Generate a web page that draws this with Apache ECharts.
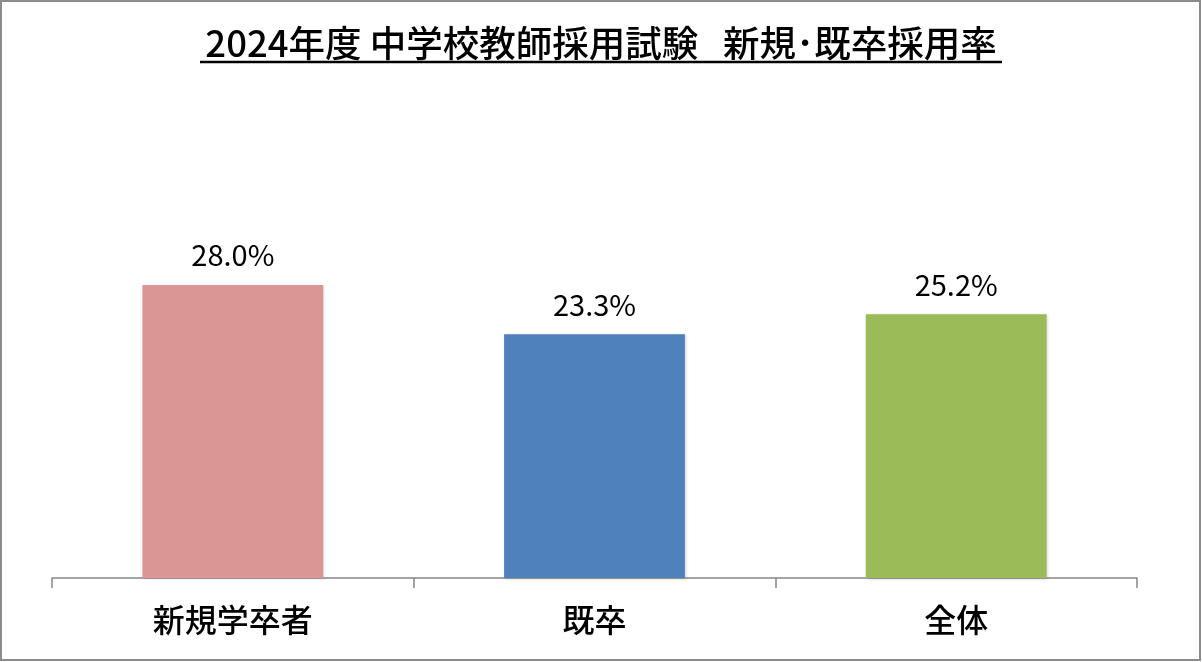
<!DOCTYPE html>
<html lang="ja">
<head>
<meta charset="utf-8">
<title>2024年度 中学校教師採用試験 新規・既卒採用率</title>
<script src="https://cdn.jsdelivr.net/npm/echarts@6/dist/echarts.min.js"></script>
<style>
  html, body { margin: 0; padding: 0; background: #fff; }
  #chartContainer { width: 1202px; height: 662px; }
</style>
</head>
<body>
<div id="chartContainer"></div>
<script>
const titleText = '2024年度 中学校教師採用試験   新規･既卒採用率';
const categories = ['新規学卒者', '既卒', '全体'];
const rates = [28.0, 23.3, 25.2];
const barColors = ['#d99694', '#4f81bd', '#9bbb59'];

const fontFamily = '"Noto Sans CJK JP", "Noto Sans", sans-serif';

const chartDom = document.getElementById('chartContainer');
const myChart = echarts.init(chartDom);

const option = {
  animation: false,
  backgroundColor: '#fff',
  title: {
    text: titleText,
    left: 'center',
    top: 20,
    textStyle: {
      fontFamily: fontFamily,
      fontSize: 36.5,
      fontWeight: 500,
      color: '#000',
    },
  },
  graphic: [
    {
      type: 'rect',
      shape: { x: 1, y: 1, width: 1199, height: 659 },
      style: { fill: 'none', stroke: '#8c8c8c', lineWidth: 2 },
      silent: true,
    },
    {
      type: 'line',
      shape: { x1: 200, y1: 62, x2: 1002, y2: 62 },
      style: { stroke: '#000', lineWidth: 2.5 },
      silent: true,
    },
  ],
  grid: {
    left: 52,
    right: 65,
    top: 264,
    bottom: 84,
  },
  xAxis: {
    type: 'category',
    data: categories,
    axisLine: { show: true, lineStyle: { color: '#868686', width: 1.5 } },
    axisTick: {
      show: true,
      inside: false,
      length: 10,
      alignWithLabel: false,
      lineStyle: { color: '#868686', width: 1.5 },
    },
    axisLabel: {
      margin: 26,
      fontFamily: fontFamily,
      fontSize: 32,
      fontWeight: 500,
      color: '#000',
    },
  },
  yAxis: {
    type: 'value',
    min: 0,
    max: 30,
    show: false,
  },
  series: [
    {
      type: 'bar',
      barWidth: '50%',
      data: rates.map((v, i) => ({
        value: v,
        itemStyle: { color: barColors[i] },
      })),
      itemStyle: {
        shadowColor: 'rgba(0, 0, 0, 0.18)',
        shadowBlur: 3,
        shadowOffsetX: 1,
        shadowOffsetY: 1,
      },
      label: {
        show: true,
        position: 'top',
        distance: 15,
        fontFamily: fontFamily,
        fontSize: 29,
        color: '#000',
        formatter: (p) => p.value.toFixed(1) + '%',
      },
    },
  ],
};

myChart.setOption(option);
</script>
</body>
</html>
